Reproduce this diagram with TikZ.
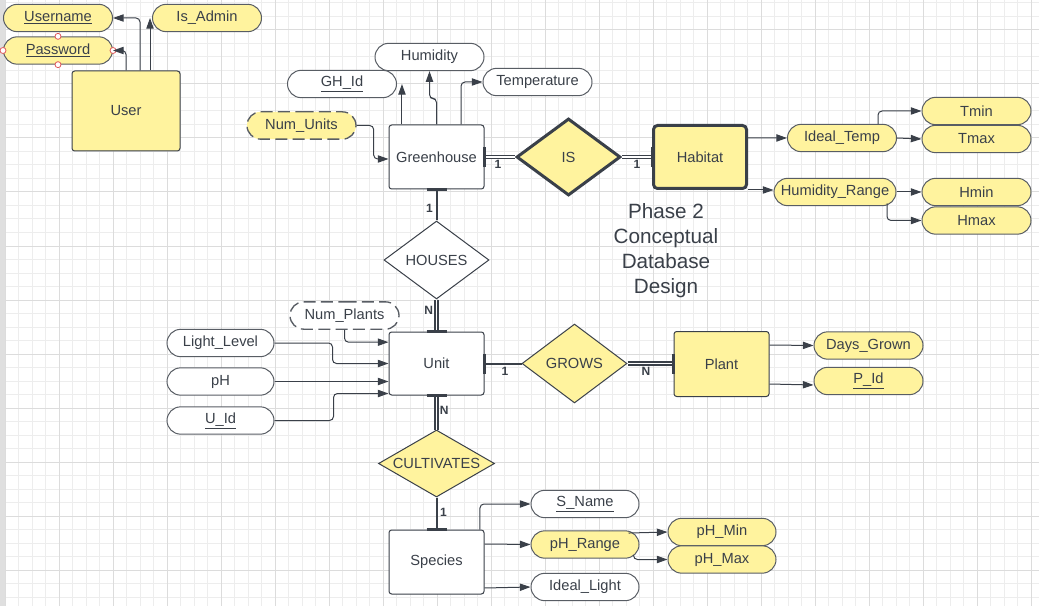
\documentclass[tikz,border=0pt]{standalone}
\usepackage{fontspec}
\setmainfont{Liberation Sans}
\usetikzlibrary{shapes.geometric,shapes.misc,arrows.meta}

\definecolor{ink}{HTML}{3A4049}
\definecolor{lucidyellow}{HTML}{FFF39E}
\definecolor{gridfine}{HTML}{EDEDED}
\definecolor{gridbold}{HTML}{DCDCDC}
\definecolor{handlered}{HTML}{E0585A}

\begin{document}
\begin{tikzpicture}[x=0.75pt,y=-0.75pt,>={Triangle[length=8pt,width=5.5pt]},
  font=\fontsize{11}{13}\selectfont,
  entity/.style={draw=ink,fill=white,line width=0.75pt,rounded corners=2pt,text=ink,minimum width=71.25pt,minimum height=48pt},
  attrib/.style={draw=ink!85,fill=white,line width=0.75pt,rounded rectangle,text=ink,minimum width=81.75pt,minimum height=20.5pt,inner sep=0pt},
  relship/.style={draw=ink,fill=white,line width=0.75pt,diamond,aspect=1.35,inner sep=0pt,text=ink,minimum width=78.75pt,minimum height=58.5pt},
  yel/.style={fill=lucidyellow},
  thickrim/.style={line width=2.25pt},
  derived/.style={dash pattern=on 9pt off 4pt,line width=1pt},
  toattr/.style={draw=ink,line width=0.75pt,->,rounded corners=3pt},
  partline/.style={draw=ink,line width=1.5pt},
  fullline/.style={draw=ink,line width=1.2pt,double,double distance=1.3pt},
  bar/.style={draw=ink,line width=2.2pt},
  card/.style={font=\bfseries\fontsize{9}{10}\selectfont,text=ink,inner sep=2pt}]
  \useasboundingbox (0,0) rectangle (1039,606);
  \fill[white] (0,0) rectangle (1039,606);
  \foreach \k in {0,...,76} \draw[gridfine,line width=0.75pt] ({5+13.5*\k},0) -- ({5+13.5*\k},606);
  \foreach \k in {0,...,44} \draw[gridfine,line width=0.75pt] (0,{3+13.5*\k}) -- (1039,{3+13.5*\k});
  \foreach \k in {0,...,19} \draw[gridbold,line width=0.75pt] ({5+54*\k},0) -- ({5+54*\k},606);
  \foreach \k in {0,...,10} \draw[gridbold,line width=0.75pt] (0,{30+54*\k}) -- (1039,{30+54*\k});
  \fill[gray!25] (0,0) rectangle (5,606);

  % user
  \node[entity,yel,minimum width=81pt,minimum height=60pt] (user) at (126,111) {User};
  \node[attrib,yel] (username) at (58,18) {\underline{Username}};
  \node[attrib,yel] (pw) at (58,50.5) {\underline{Password}};
  \node[attrib,yel] (isadmin) at (207,18) {Is\_Admin};
  \foreach \a in {north,south,east,west}
    \draw[handlered,fill=white,line width=0.6pt] (pw.\a) circle[radius=2.25pt];
  \coordinate (adm) at ([xshift=18pt]user.north);
  \draw[toattr] ([xshift=10.5pt]user.north) |- (username.east);
  \draw[toattr] (user.north) |- (pw.east);
  \draw[toattr] (adm) -- (adm |- isadmin.west);

  % greenhouse
  \node[entity] (green) at (436.5,157) {Greenhouse};
  \node[attrib] (humid) at (429.5,57) {Humidity};
  \node[attrib] (ghid) at (342,84) {\underline{GH\_Id}};
  \node[attrib] (temp) at (537.5,82) {Temperature};
  \node[attrib,yel,derived] (numunits) at (301.5,125.5) {Num\_Units};
  \coordinate (gid) at ([xshift=-25.9pt]green.north);
  \draw[toattr] (gid) -- (gid |- ghid.east);
  \draw[toattr] (green.north) -- ++(0,-26) -| (humid.south);
  \draw[toattr] ([xshift=18.4pt]green.north) |- (temp.west);
  \draw[toattr] (numunits.east) -- ++(17,0) |- ([yshift=-1.5pt]green.west);

  % habitat
  \node[relship,yel,thickrim,minimum width=78pt,minimum height=57.75pt] (is) at (568.5,157) {IS};
  \node[entity,yel,thickrim,rounded corners=3pt,minimum width=69.75pt,minimum height=47.25pt] (habitat) at (700,157) {Habitat};
  \node[attrib,yel] (idealtemp) at (842,138) {Ideal\_Temp};
  \node[attrib,yel,minimum width=91.5pt] (humrange) at (835,192) {Humidity\_Range};
  \node[attrib,yel] (tmin) at (976.5,111) {Tmin};
  \node[attrib,yel] (tmax) at (976.5,139) {Tmax};
  \node[attrib,yel] (hmin) at (976.5,192) {Hmin};
  \node[attrib,yel] (hmax) at (976.5,220.5) {Hmax};
  \draw[fullline] (green.east) -- node[card,below,pos=0.44] {1} (is.west);
  \draw[fullline] (is.east) -- node[card,below,pos=0.5] {1} (habitat.west);
  \draw[bar] ([yshift=7.5pt]green.east) -- ([yshift=-7.5pt]green.east);
  \draw[bar] ([yshift=7.5pt]habitat.west) -- ([yshift=-7.5pt]habitat.west);
  \draw[toattr] ([yshift=14.3pt]habitat.east) -- (idealtemp.west);
  \draw[toattr] (habitat.south east) -- (habitat.south east -| humrange.west);
  \draw[toattr] ([xshift=27pt]idealtemp.north) |- (tmin.west);
  \draw[toattr] (idealtemp.east) -- (tmax.west);
  \draw[toattr] (humrange.east) -- (hmin.west);
  \draw[toattr] ([xshift=39pt,yshift=2pt]humrange.south) |- (hmax.west);

  \node[text=ink,align=center,font=\fontsize{15.5}{18.75}\selectfont] (title) at (666,251) {Phase 2\\Conceptual\\Database\\Design};

  % unit
  \node[relship] (houses) at (436.5,260) {HOUSES};
  \node[entity,minimum height=47.25pt] (unit) at (436.5,363.5) {Unit};
  \node[attrib,minimum width=80.25pt] (light) at (220.5,343) {Light\_Level};
  \node[attrib,minimum width=80.25pt] (ph) at (220.5,381.5) {pH};
  \node[attrib,minimum width=80.25pt] (uid) at (220.5,420.5) {\underline{U\_Id}};
  \node[attrib,derived] (numplants) at (344.5,315.5) {Num\_Plants};
  \draw[partline] (green.south) -- node[card,left,pos=0.6] {1} (houses.north);
  \draw[bar] ([xshift=-7.5pt]green.south) -- ([xshift=7.5pt]green.south);
  \draw[fullline] (houses.south) -- node[card,left,pos=0.35] {N} (unit.north);
  \draw[bar] ([xshift=-7.5pt]unit.north) -- ([xshift=7.5pt]unit.north);
  \draw[toattr] (numplants.south) |- ([yshift=16pt]unit.west);
  \draw[toattr] (light.east) -- ++(58,0) |- (unit.west);
  \draw[toattr] (ph.east) -- (ph.east -| unit.west);
  \draw[toattr] (uid.east) -- ++(59,0) |- ([yshift=-22.5pt]unit.west);

  % plant
  \node[relship,yel,minimum height=59.25pt] (grows) at (574.5,363.5) {GROWS};
  \node[entity,yel,minimum height=48.75pt] (plant) at (721.5,364) {Plant};
  \node[attrib,yel] (daysgrown) at (868.5,345.5) {Days\_Grown};
  \node[attrib,yel] (pid) at (868.5,381) {\underline{P\_Id}};
  \draw[partline] (unit.east) -- node[card,below,pos=0.55] {1} (grows.west);
  \draw[bar] ([yshift=7.5pt]unit.east) -- ([yshift=-7.5pt]unit.east);
  \draw[fullline] (grows.east) -- node[card,below,pos=0.4] {N} (grows.east -| plant.west);
  \draw[bar] ([yshift=7.5pt]plant.west) -- ([yshift=-7.5pt]plant.west);
  \draw[toattr] ([yshift=14.25pt]plant.east) -- (daysgrown.west);
  \draw[toattr] ([yshift=-15pt]plant.east) -- ([yshift=-3pt]pid.west);

  % species
  \node[relship,yel,aspect=1.73,minimum width=87pt,minimum height=50.25pt] (cult) at (436.5,463.5) {CULTIVATES};
  \node[entity] (species) at (436.5,562) {Species};
  \node[attrib,minimum width=81pt] (sname) at (585,504) {\underline{S\_Name}};
  \node[attrib,yel,minimum width=81pt] (phrange) at (585,544.5) {pH\_Range};
  \node[attrib,minimum width=81pt] (ideallight) at (585,587) {Ideal\_Light};
  \node[attrib,yel,minimum width=81pt] (phmin) at (722,532) {pH\_Min};
  \node[attrib,yel,minimum width=81pt] (phmax) at (722,559.5) {pH\_Max};
  \draw[fullline] (unit.south) -- node[card,right,pos=0.45] {N} (cult.north);
  \draw[bar] ([xshift=-7.5pt]unit.south) -- ([xshift=7.5pt]unit.south);
  \draw[partline] (cult.south) -- node[card,right,pos=0.45] {1} (species.north);
  \draw[bar] ([xshift=-7.5pt]species.north) -- ([xshift=7.5pt]species.north);
  \draw[toattr] ([xshift=32.6pt]species.north) |- (sname.west);
  \draw[toattr] ([yshift=13.5pt]species.east) -- (phrange.west);
  \draw[toattr] ([yshift=-19.5pt]species.east) -- (ideallight.west);
  \draw[toattr] ([shift={(-8.25pt,8.6pt)}]phrange.east) -- (phmin.west);
  \draw[toattr] ([shift={(-4.5pt,-7.9pt)}]phrange.east) |- (phmax.west);
\end{tikzpicture}
\end{document}
